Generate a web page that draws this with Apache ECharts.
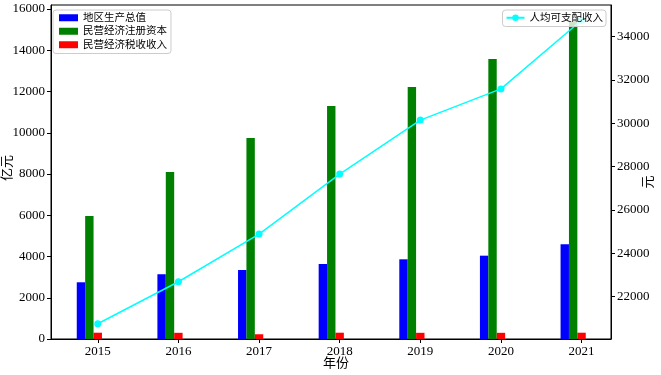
<!DOCTYPE html>
<html>
<head>
<meta charset="utf-8">
<script src="https://cdn.jsdelivr.net/npm/echarts@6/dist/echarts.min.js"></script>
<style>html,body{margin:0;padding:0;background:#fff;}#c{width:661px;height:375px;}</style>
</head>
<body>
<div id="c"></div>
<script>
var years = [2015, 2016, 2017, 2018, 2019, 2020, 2021];
var gdp = [2750, 3140, 3345, 3636, 3864, 4040, 4590];
var regCapital = [5964, 8100, 9745, 11300, 12220, 13576, 15420];
var taxRevenue = [305, 300, 230, 305, 300, 300, 305];
var income = [20750, 22690, 24890, 27660, 30150, 31590, 34760];
var leftTicks = [0, 2000, 4000, 6000, 8000, 10000, 12000, 14000, 16000];
var rightTicks = [22000, 24000, 26000, 28000, 30000, 32000, 34000];

var SERIF = 'Liberation Serif, Noto Sans CJK SC';
var BAR_PX = 8.4;
var PX_PER_YEAR = 80.57;
var shift = BAR_PX / PX_PER_YEAR;

function pairs(vals, dx) {
  return years.map(function (y, i) { return [y - dx, vals[i]]; });
}
function plain(v) { return String(Math.round(v)); }

var chart = echarts.init(document.getElementById('c'), null, {renderer: 'canvas'});
var axisLineStyle = {color: '#000', width: 1};
chart.setOption({
  animation: false,
  backgroundColor: '#fff',
  textStyle: {fontFamily: SERIF, color: '#000'},
  grid: {left: 51, right: 50, top: 5, bottom: 36, show: true, borderColor: '#000', borderWidth: 1, containLabel: false, outerBoundsMode: 'none'},
  legend: [
    {
      orient: 'vertical', left: 53, top: 10,
      padding: [1, 4, 2, 6],
      itemGap: 0, itemWidth: 19, itemHeight: 7,
      icon: 'rect',
      backgroundColor: 'rgba(255,255,255,0.8)', borderColor: '#ccc', borderWidth: 1, borderRadius: 3,
      textStyle: {fontFamily: SERIF, fontSize: 10.5, color: '#000', lineHeight: 13.5},
      data: ['地区生产总值', '民营经济注册资本', '民营经济税收收入']
    },
    {
      orient: 'vertical', right: 55, top: 10,
      padding: [1, 3, 2, 3],
      itemGap: 0, itemWidth: 18, itemHeight: 8,
      backgroundColor: 'rgba(255,255,255,0.8)', borderColor: '#ccc', borderWidth: 1, borderRadius: 3,
      textStyle: {fontFamily: SERIF, fontSize: 10.5, color: '#000', lineHeight: 13.5},
      data: ['人均可支配收入']
    }
  ],
  xAxis: {
    type: 'value', min: 2014.42, max: 2021.365,
    name: '年份', nameLocation: 'middle', nameGap: 18, nameMoveOverlap: false,
    nameTextStyle: {fontFamily: SERIF, fontSize: 13, color: '#000', padding: [0, 0, 0, 10]},
    axisLine: {show: true, lineStyle: axisLineStyle},
    axisTick: {show: true, length: 4, inside: false, customValues: years, lineStyle: axisLineStyle},
    axisLabel: {customValues: years, fontSize: 13, color: '#000', fontFamily: SERIF, margin: 6, formatter: plain},
    splitLine: {show: false}
  },
  yAxis: [
    {
      type: 'value', min: 0, max: 16194, position: 'left',
      name: '亿元', nameLocation: 'middle', nameGap: 37, nameRotate: 90, nameMoveOverlap: false,
      nameTextStyle: {fontFamily: SERIF, fontSize: 13, color: '#000', padding: [0, 0, 0, 8]},
      axisLine: {show: true, lineStyle: axisLineStyle},
      axisTick: {show: true, length: 4, inside: false, customValues: leftTicks, lineStyle: axisLineStyle},
      axisLabel: {customValues: leftTicks, fontSize: 13, color: '#000', fontFamily: SERIF, margin: 6, formatter: plain},
      splitLine: {show: false}
    },
    {
      type: 'value', min: 20048, max: 35463, position: 'right',
      name: '元', nameLocation: 'middle', nameGap: 31, nameRotate: 90, nameMoveOverlap: false,
      nameTextStyle: {fontFamily: SERIF, fontSize: 13, color: '#000', padding: [0, 20, 0, 0]},
      axisLine: {show: true, lineStyle: axisLineStyle},
      axisTick: {show: true, length: 4, inside: false, customValues: rightTicks, lineStyle: axisLineStyle},
      axisLabel: {customValues: rightTicks, fontSize: 13, color: '#000', fontFamily: SERIF, margin: 6, formatter: plain},
      splitLine: {show: false}
    }
  ],
  series: [
    {name: '地区生产总值', type: 'bar', barWidth: BAR_PX, barGap: '0%', itemStyle: {color: '#0000ff'}, data: pairs(gdp, shift)},
    {name: '民营经济注册资本', type: 'bar', barWidth: BAR_PX, barGap: '0%', itemStyle: {color: '#008000'}, data: pairs(regCapital, shift)},
    {name: '民营经济税收收入', type: 'bar', barWidth: BAR_PX, barGap: '0%', itemStyle: {color: '#ff0000'}, data: pairs(taxRevenue, shift)},
    {name: '人均可支配收入', type: 'line', yAxisIndex: 1, symbol: 'circle', symbolSize: 7, z: 2,
      lineStyle: {color: '#00ffff', width: 1.5}, itemStyle: {color: '#00ffff'},
      data: pairs(income, 0)}
  ]
});
</script>
</body>
</html>
